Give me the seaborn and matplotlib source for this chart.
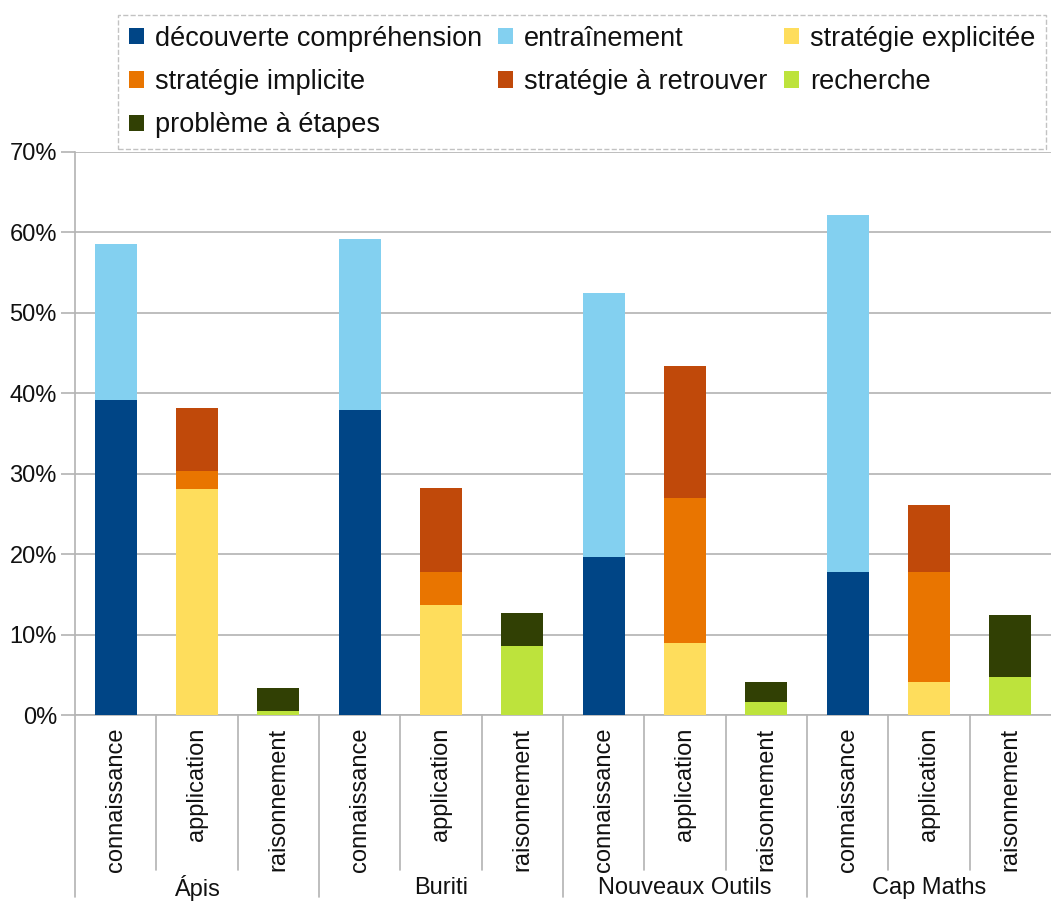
import numpy as np
import pandas as pd
import seaborn as sns
import matplotlib.pyplot as plt
from matplotlib.patches import Patch
import matplotlib.transforms as mtransforms

# données (en %)
manuels = ["Ápis", "Buriti", "Nouveaux Outils", "Cap Maths"]
niveaux = ["connaissance", "application", "raisonnement"]

series = ["découverte compréhension", "entraînement", "stratégie explicitée",
          "stratégie implicite", "stratégie à retrouver", "recherche", "problème à étapes"]
couleurs = ["#004586", "#83d0f0", "#fedd5c", "#e97500", "#c0490a", "#bde33c", "#314004"]

decouverte = [39.2, 0, 0, 37.9, 0, 0, 19.7, 0, 0, 17.8, 0, 0]
entrainement = [19.4, 0, 0, 21.3, 0, 0, 32.8, 0, 0, 44.4, 0, 0]
strat_explicitee = [0, 28.1, 0, 0, 13.7, 0, 0, 8.9, 0, 0, 4.1, 0]
strat_implicite = [0, 2.2, 0, 0, 4.1, 0, 0, 18.1, 0, 0, 13.7, 0]
strat_retrouver = [0, 7.9, 0, 0, 10.4, 0, 0, 16.4, 0, 0, 8.3, 0]
recherche = [0, 0, 0.5, 0, 0, 8.6, 0, 0, 1.6, 0, 0, 4.7]
probleme = [0, 0, 2.9, 0, 0, 4.1, 0, 0, 2.5, 0, 0, 7.7]

valeurs = [decouverte, entrainement, strat_explicitee, strat_implicite,
           strat_retrouver, recherche, probleme]

sns.set_theme(style="white")
plt.rcParams['font.family'] = ['Liberation Sans', 'DejaVu Sans']

fig = plt.figure(figsize=(10.51, 9.02), dpi=100)
ax = fig.add_axes([75 / 1051, 1 - 715 / 902, 1 - 75 / 1051, (715 - 152) / 902])

n = len(manuels) * len(niveaux)
pos = np.arange(n)
cumul = np.cumsum(np.array(valeurs), axis=0)

# barres empilées : on trace les cumuls du haut vers le bas
for i in range(len(series) - 1, -1, -1):
    sns.barplot(x=pos, y=cumul[i], color=couleurs[i], saturation=1,
                width=0.52, linewidth=0, ax=ax, zorder=3)

gris = "#b3b3b3"
ax.set_xlim(-0.5, n - 0.5)
ax.set_ylim(0, 70)
ax.set_yticks(range(0, 71, 10))
ax.set_yticklabels([f"{v}%" for v in range(0, 71, 10)], fontsize=17, color="#111111")
ax.yaxis.grid(True, color=gris, lw=1.2)
ax.set_axisbelow(True)
ax.tick_params(axis="y", length=10, width=1.2, color=gris, pad=3, left=True)
ax.set_xlabel("")
ax.set_ylabel("")

ax.set_xticks(pos)
ax.set_xticklabels(niveaux * len(manuels), rotation=90, fontsize=17, color="#111111")
ax.tick_params(axis="x", length=0, pad=9)

for s in ["top", "right"]:
    ax.spines[s].set_visible(False)
for s in ["left", "bottom"]:
    ax.spines[s].set_color(gris)
    ax.spines[s].set_linewidth(1.2)

# séparateurs de catégories et noms des manuels
trans = mtransforms.blended_transform_factory(ax.transData, ax.transAxes)
for k in range(n):
    bas = -0.323 if k % 3 == 0 else -0.275
    ax.plot([k - 0.5, k - 0.5], [0, bas], color=gris, lw=1.2,
            transform=trans, clip_on=False)
for g, nom in enumerate(manuels):
    ax.text(g * 3 + 1, -0.308, nom, transform=trans, ha="center", va="center",
            fontsize=17, color="#111111")

# légende sur 3 colonnes, remplie ligne par ligne
poignees = [Patch(facecolor=c, edgecolor="none", label=s) for s, c in zip(series, couleurs)]
ordre = [0, 3, 6, 1, 4, 2, 5]
leg = fig.legend([poignees[i] for i in ordre], [series[i] for i in ordre],
                 loc="upper left", bbox_to_anchor=(118 / 1051, 1 - 15 / 902),
                 ncol=3, fontsize=19.5, frameon=True, fancybox=False,
                 borderaxespad=0, handlelength=0.55, handleheight=0.55,
                 handletextpad=0.4, columnspacing=0.62, labelspacing=0.64,
                 borderpad=0.4)
cadre = leg.get_frame()
cadre.set_edgecolor(gris)
cadre.set_linestyle("--")
cadre.set_linewidth(1)
for t in leg.get_texts():
    t.set_color("#111111")

fig.savefig("out.png", dpi=100)
